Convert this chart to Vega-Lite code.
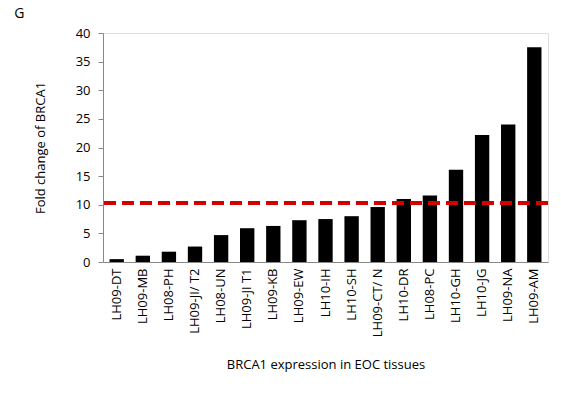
{
"$schema":"https://vega.github.io/schema/vega-lite/v6.json",
"width":445,"height":229,
"autosize":{"type":"none"},
"padding":{"left":103,"top":33,"right":13,"bottom":139},
"background":"white",
"data":{"values":[
{"s":"LH09-DT","v":0.5},{"s":"LH09-MB","v":1.1},{"s":"LH08-PH","v":1.8},{"s":"LH09-JI/ T2","v":2.7},
{"s":"LH08-UN","v":4.7},{"s":"LH09-JI T1","v":5.9},{"s":"LH09-KB","v":6.3},{"s":"LH09-EW","v":7.3},
{"s":"LH10-IH","v":7.5},{"s":"LH10-SH","v":8.0},{"s":"LH09-CT/ N","v":9.6},{"s":"LH10-DR","v":11.0},
{"s":"LH08-PC","v":11.6},{"s":"LH10-GH","v":16.1},{"s":"LH10-JG","v":22.2},{"s":"LH09-NA","v":24.0},{"s":"LH09-AM","v":37.5}]},
"encoding":{
"y":{"type":"quantitative","scale":{"domain":[0,40],"nice":false},
"axis":{"title":"Fold change of BRCA1","titleFont":"Open Sans","titleFontWeight":"normal","titleFontSize":13,"titlePadding":28,"labelFont":"Open Sans","labelFontSize":13,"labelColor":"black","grid":false,"labelOverlap":false,"values":[0,5,10,15,20,25,30,35,40],"domainColor":"#888","tickColor":"#888","labelPadding":8}}},
"layer":[
{"mark":{"type":"bar","color":"black"},
"encoding":{
"x":{"field":"s","type":"nominal","sort":null,"scale":{"paddingInner":0.45,"paddingOuter":0.25},
"axis":{"title":"BRCA1 expression in EOC tissues","titleFont":"Open Sans","titleFontWeight":"normal","titleFontSize":13,"titlePadding":22,"labelAngle":-90,"labelFont":"Open Sans","labelFontSize":13,"labelColor":"black","ticks":false,"domainColor":"#888","labelPadding":6}},
"y":{"field":"v"}}},
{"data":{"values":[{"y":10.3}]},
"mark":{"type":"rule","color":"#d40000","strokeWidth":4,"strokeDash":[12,6]},
"encoding":{"y":{"field":"y"}}}
],
"title":{"text":"G","anchor":"start","frame":"bounds","font":"Open Sans","fontSize":14,"fontWeight":"normal","dx":-20,"offset":6}
}
